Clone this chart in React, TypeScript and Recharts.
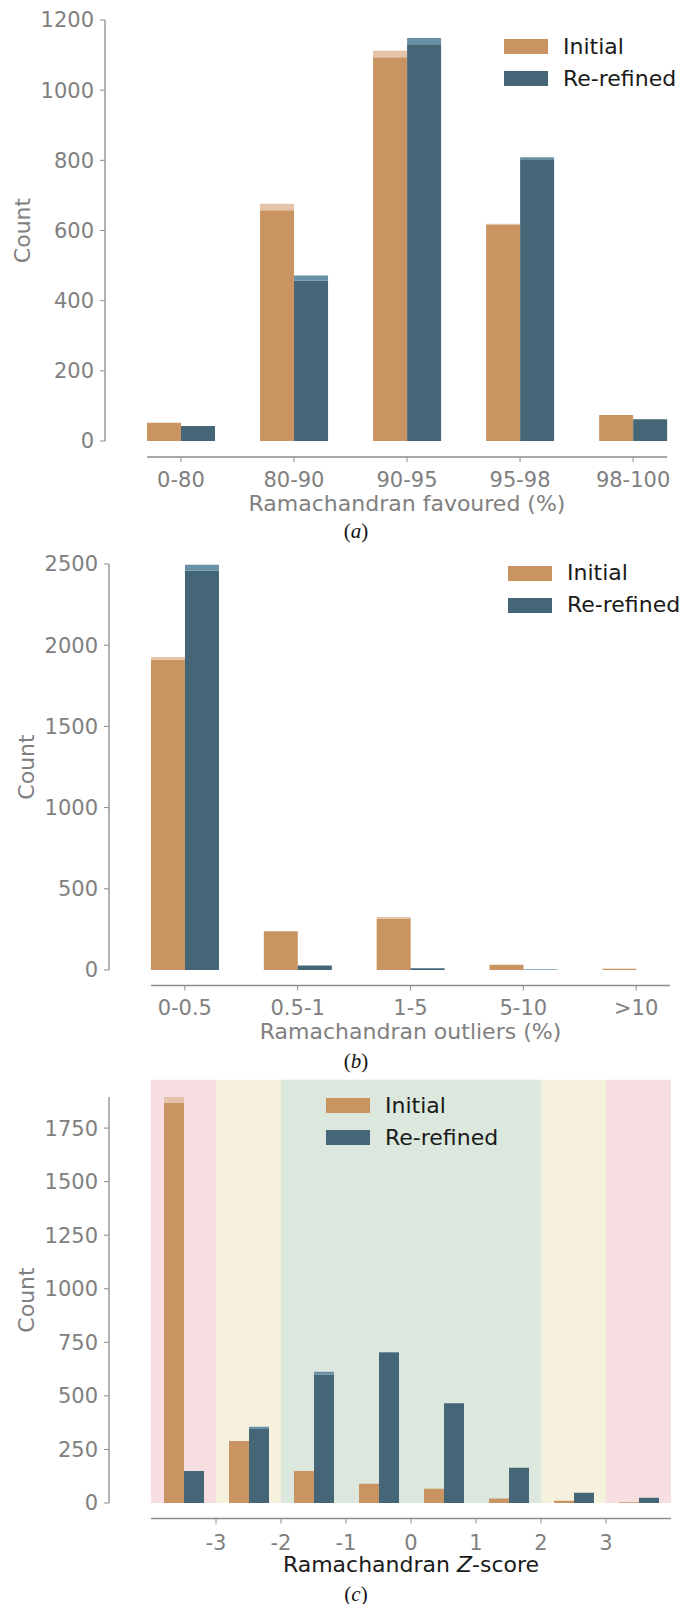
import React from 'react';
import { BarChart, Bar, XAxis, YAxis, Legend, ReferenceArea, Label } from 'recharts';

// (a) Ramachandran favoured
const favouredBins = ['0-80', '80-90', '90-95', '95-98', '98-100'];
const favouredInitialTop = [52, 676, 1112, 619, 74];
const favouredInitialBase = [52, 658, 1094, 616, 74];
const favouredRefinedTop = [43, 472, 1149, 809, 62];
const favouredRefinedBase = [43, 457, 1131, 803, 62];
const favouredTicks = [0, 200, 400, 600, 800, 1000, 1200];

// (b) Ramachandran outliers
const outlierBins = ['0-0.5', '0.5-1', '1-5', '5-10', '>10'];
const outlierInitialTop = [1928, 239, 326, 32, 8];
const outlierInitialBase = [1911, 239, 314, 32, 8];
const outlierRefinedTop = [2496, 28, 13, 4, 0];
const outlierRefinedBase = [2458, 28, 11, 1, 0];
const outlierTicks = [0, 500, 1000, 1500, 2000, 2500];

// (c) Ramachandran Z-score
const zBins = ['<-3', '-3/-2', '-2/-1', '-1/0', '0/1', '1/2', '2/3', '>3'];
const zCentres = [-3.5, -2.5, -1.5, -0.5, 0.5, 1.5, 2.5, 3.5];
const zInitialTop = [1895, 289, 149, 90, 67, 21, 11, 3];
const zInitialBase = [1868, 289, 149, 90, 67, 21, 11, 3];
const zRefinedTop = [149, 356, 613, 705, 465, 164, 48, 24];
const zRefinedBase = [149, 345, 600, 700, 465, 164, 48, 24];
const zTicks = [-3, -2, -1, 0, 1, 2, 3];
const zCountTicks = [0, 250, 500, 750, 1000, 1250, 1500, 1750];
const zoneEdges = [-4, -3, -2, 2, 3, 4];
const zoneKinds = ['outlier', 'allowed', 'favoured', 'allowed', 'outlier'];
const zoneTop = 1976;

const FONT = '"DejaVu Sans", "Noto Sans", sans-serif';
const GREY = '#808080';
const AXIS = '#8c8c8c';
const INITIAL = '#CA9462';
const INITIAL_CAP = '#E4C3A8';
const REFINED = '#456676';
const REFINED_CAP = '#6890A6';
const ZONE_COLOURS: Record<string, string> = {
  outlier: '#F7DFE1',
  allowed: '#F5F1DD',
  favoured: '#DCE8DD',
};

const buildRows = (
  bins: string[],
  iTop: number[],
  iBase: number[],
  rTop: number[],
  rBase: number[],
  centres?: number[]
) =>
  bins.map((bin, k) => ({
    bin,
    z: centres ? centres[k] : k,
    initial: iBase[k],
    initialCap: iTop[k] - iBase[k],
    refined: rBase[k],
    refinedCap: rTop[k] - rBase[k],
  }));

const favouredRows = buildRows(favouredBins, favouredInitialTop, favouredInitialBase, favouredRefinedTop, favouredRefinedBase);
const outlierRows = buildRows(outlierBins, outlierInitialTop, outlierInitialBase, outlierRefinedTop, outlierRefinedBase);
const zRows = buildRows(zBins, zInitialTop, zInitialBase, zRefinedTop, zRefinedBase, zCentres);
const zMax = Math.max(...zInitialTop, ...zRefinedTop);

const tickStyle = { fill: GREY, fontSize: 21, fontFamily: FONT };
const axisLine = { stroke: AXIS, strokeWidth: 1.3 };

const renderLegend = (props: any) => (
  <div>
    {(props.payload || [])
      .filter((e: any) => e.dataKey === 'initial' || e.dataKey === 'refined')
      .map((e: any) => (
        <div key={e.value} style={{ display: 'flex', alignItems: 'center', height: 32 }}>
          <span style={{ display: 'inline-block', width: 44, height: 15, background: e.color, marginRight: 15 }} />
          <span style={{ fontSize: 22, fontFamily: FONT, color: '#1a1a1a', lineHeight: 1 }}>{e.value}</span>
        </div>
      ))}
  </div>
);

const series = () => [
  <Bar key="i" dataKey="initial" name="Initial" stackId="i" fill={INITIAL} isAnimationActive={false} xAxisId="cat" />,
  <Bar key="ic" dataKey="initialCap" stackId="i" fill={INITIAL_CAP} legendType="none" isAnimationActive={false} xAxisId="cat" />,
  <Bar key="r" dataKey="refined" name="Re-refined" stackId="r" fill={REFINED} isAnimationActive={false} xAxisId="cat" />,
  <Bar key="rc" dataKey="refinedCap" stackId="r" fill={REFINED_CAP} legendType="none" isAnimationActive={false} xAxisId="cat" />,
];

const Caption = ({ letter, y }: { letter: string; y: number }) => (
  <div
    style={{
      position: 'absolute',
      left: 356,
      top: y,
      transform: 'translate(-50%, -50%)',
      fontFamily: '"Liberation Serif", "DejaVu Serif", serif',
      fontSize: 21,
      lineHeight: 1,
      color: '#111',
    }}
  >
    (<i>{letter}</i>)
  </div>
);

const zLabel = (props: any) => {
  const { x, y, width, height } = props.viewBox;
  return (
    <text x={x + width / 2} y={y + height - 22} textAnchor="middle" fill="#1a1a1a" fontSize={22} fontFamily={FONT}>
      Ramachandran <tspan fontStyle="italic">Z</tspan>-score
    </text>
  );
};

// separate narrow chart that only draws the (offset) count axis
const CountAxis = ({ top, plotTop, plotHeight, axisX, yMax, ticks, rows }: any) => (
  <div className="rama" style={{ position: 'absolute', left: 0, top }}>
    <BarChart width={axisX + 12} height={plotTop + plotHeight} data={rows} margin={{ top: plotTop, right: 0, bottom: 0, left: 0 }}>
      <XAxis xAxisId="cat" dataKey="bin" hide height={0} />
      <YAxis domain={[0, yMax]} ticks={ticks} interval={0} width={axisX} tick={tickStyle}
        tickSize={5} tickMargin={6} tickLine={{ stroke: AXIS }} axisLine={axisLine} allowDataOverflow>
        <Label value="Count" angle={-90} position="center" dx={22 + (axisX - 105) - axisX / 2} fill={GREY} fontSize={22} fontFamily={FONT} />
      </YAxis>
      <Bar dataKey="initial" xAxisId="cat" fillOpacity={0} isAnimationActive={false} legendType="none" />
    </BarChart>
  </div>
);

// bars sit a few pixels above the bottom spine, so the hidden value axis dips below zero
const lowerBound = (yMax: number, plotHeight: number, drop: number) => (-drop * yMax) / plotHeight;

export default function App() {
  const aH = 421, bH = 406, cH = 406;
  return (
    <div style={{ position: 'relative', width: 682, height: 1604, background: '#fff', overflow: 'hidden' }}>
      <style>{`
        body { margin: 0; }
        .rama svg { overflow: visible; }
      `}</style>

      {/* (a) */}
      <div className="rama" style={{ position: 'absolute', left: 0, top: 0 }}>
        <BarChart width={682} height={20 + aH + 16 + 60} data={favouredRows} margin={{ top: 20, right: 15, bottom: 0, left: 147 }} barGap={0} barCategoryGap="20%">
          <XAxis xAxisId="cat" dataKey="bin" interval={0} height={60} padding={{ left: -22.6, right: -22.6 }}
            tick={tickStyle} tickSize={5} tickMargin={10} tickLine={{ stroke: AXIS }} axisLine={axisLine}>
            <Label value="Ramachandran favoured (%)" position="insideBottom" offset={6} fill={GREY} fontSize={22} fontFamily={FONT} />
          </XAxis>
          <YAxis hide width={0} domain={[lowerBound(1200, aH, 16), 1200]} allowDataOverflow />
          <Legend layout="vertical" align="center" verticalAlign="middle" content={renderLegend}
            wrapperStyle={{ left: 504, top: 30.5, width: 'auto' }} />
          {series()}
        </BarChart>
      </div>
      <CountAxis top={0} plotTop={20} plotHeight={aH} axisX={105} yMax={1200} ticks={favouredTicks} rows={favouredRows} />
      <Caption letter="a" y={531} />

      {/* (b) */}
      <div className="rama" style={{ position: 'absolute', left: 0, top: 540 }}>
        <BarChart width={682} height={24 + bH + 15.5 + 60} data={outlierRows} margin={{ top: 24, right: 12, bottom: 0, left: 151 }} barGap={0} barCategoryGap="20%">
          <XAxis xAxisId="cat" dataKey="bin" interval={0} height={60} padding={{ left: -22.6, right: -22.6 }}
            tick={tickStyle} tickSize={5} tickMargin={10} tickLine={{ stroke: AXIS }} axisLine={axisLine}>
            <Label value="Ramachandran outliers (%)" position="insideBottom" offset={6.5} fill={GREY} fontSize={22} fontFamily={FONT} />
          </XAxis>
          <YAxis hide width={0} domain={[lowerBound(2500, bH, 15.5), 2500]} allowDataOverflow />
          <Legend layout="vertical" align="center" verticalAlign="middle" content={renderLegend}
            wrapperStyle={{ left: 508, top: 17, width: 'auto' }} />
          {series()}
        </BarChart>
      </div>
      <CountAxis top={540} plotTop={24} plotHeight={bH} axisX={109} yMax={2500} ticks={outlierTicks} rows={outlierRows} />
      <Caption letter="b" y={1061} />

      {/* (c) */}
      <div className="rama" style={{ position: 'absolute', left: 0, top: 1070 }}>
        <BarChart width={682} height={27 + cH + 15.5 + 75} data={zRows} margin={{ top: 27, right: 11, bottom: 0, left: 151 }} barGap={0} barCategoryGap="20%">
          <XAxis xAxisId="cat" dataKey="bin" hide height={0} />
          <XAxis xAxisId="z" type="number" dataKey="z" domain={[-4, 4]} allowDataOverflow ticks={zTicks} interval={0}
            height={75} tick={tickStyle} tickSize={5} tickMargin={12} tickLine={{ stroke: AXIS }} axisLine={axisLine}>
            <Label content={zLabel} />
          </XAxis>
          <YAxis hide width={0} domain={[lowerBound(zMax, cH, 15.5), zMax]} allowDataOverflow />
          {zoneKinds.map((kind, k) => (
            <ReferenceArea key={k} xAxisId="z" x1={zoneEdges[k]} x2={zoneEdges[k + 1]} y1={0} y2={zoneTop}
              ifOverflow="visible" fill={ZONE_COLOURS[kind]} fillOpacity={1} stroke="none" />
          ))}
          <Legend layout="vertical" align="center" verticalAlign="middle" content={renderLegend}
            wrapperStyle={{ left: 326, top: 19.5, width: 'auto' }} />
          {series()}
        </BarChart>
      </div>
      <CountAxis top={1070} plotTop={27} plotHeight={cH} axisX={109} yMax={zMax} ticks={zCountTicks} rows={zRows} />
      <Caption letter="c" y={1594} />
    </div>
  );
}
